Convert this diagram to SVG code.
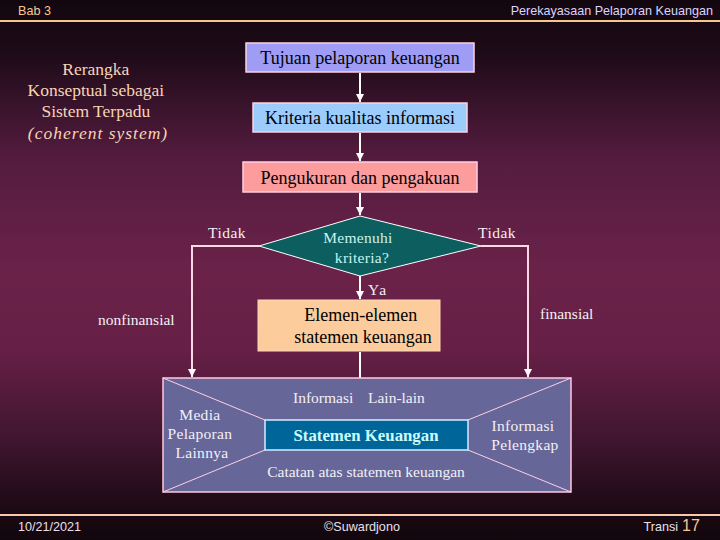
<svg xmlns="http://www.w3.org/2000/svg" width="720" height="540" viewBox="0 0 720 540">
<defs>
<linearGradient id="bg" x1="0" y1="0" x2="0" y2="1">
<stop offset="0" stop-color="#12070f"/>
<stop offset="0.1" stop-color="#1e0b18"/>
<stop offset="0.3" stop-color="#561c40"/>
<stop offset="0.5" stop-color="#6a2249"/>
<stop offset="0.65" stop-color="#661f46"/>
<stop offset="0.82" stop-color="#3e152e"/>
<stop offset="0.95" stop-color="#1a0912"/>
<stop offset="1" stop-color="#12060d"/>
</linearGradient>
<marker id="ah" viewBox="0 0 10 10" refX="10" refY="5" markerWidth="4" markerHeight="4" orient="auto">
<path d="M0,0 L10,5 L0,10 z" fill="#ffffff"/>
</marker>
<style>
.hdr{font-family:"Liberation Sans",Arial,sans-serif;font-size:12.6px}
.s{font-family:"Liberation Serif","Times New Roman",serif}
.box{stroke:#ffd0e0;stroke-width:1.5}
.lbl{font-family:"Liberation Serif","Times New Roman",serif;font-size:15.5px;fill:#f4f0f4}
.ln{stroke:#ffffff;stroke-width:2;fill:none}
.pl{stroke:#ffd8e6;stroke-width:2;fill:none}
</style>
</defs>
<rect x="0" y="0" width="720" height="540" fill="url(#bg)"/>
<g id="header">
<line x1="0" y1="21" x2="720" y2="21" stroke="#f4c888" stroke-width="2"/>
<text x="18" y="15" class="hdr" fill="#f8c890">Bab 3</text>
<text x="713" y="15" class="hdr" fill="#dcd4fc" text-anchor="end">Perekayasaan Pelaporan Keuangan</text>
</g>
<g id="footer">
<line x1="0" y1="515" x2="720" y2="515" stroke="#f8c8a8" stroke-width="2"/>
<text x="18" y="531" class="hdr" fill="#e8e0e8">10/21/2021</text>
<text x="362" y="531" class="hdr" fill="#e8e0e8" text-anchor="middle">©Suwardjono</text>
<text x="678" y="531" class="hdr" fill="#e8e0e8" text-anchor="end">Transi</text>
<text x="682" y="531" font-family="Liberation Sans,Arial,sans-serif" font-size="16" fill="#f8c890">17</text>
</g>
<g id="title">
<text class="s" font-size="17.5" fill="#f8d4b4" text-anchor="middle">
<tspan x="98" y="75">Rerangka</tspan>
<tspan x="98" y="96">Konseptual sebagai</tspan>
<tspan x="98" y="117">Sistem Terpadu</tspan>
<tspan x="98" y="139" font-style="italic" letter-spacing="1">(coherent system)</tspan>
</text>
</g>
<g id="connectors">
<line class="ln" x1="360" y1="73" x2="360" y2="102" marker-end="url(#ah)"/>
<line class="ln" x1="360" y1="133" x2="360" y2="161" marker-end="url(#ah)"/>
<line class="ln" x1="360" y1="193" x2="360" y2="215" marker-end="url(#ah)"/>
<line class="ln" x1="360" y1="276" x2="360" y2="299" marker-end="url(#ah)"/>
<line class="ln" x1="360" y1="352" x2="360" y2="419" marker-end="url(#ah)"/>
<polyline class="pl" points="259,246 192,246 192,377" marker-end="url(#ah)"/>
<polyline class="pl" points="481,246 528,246 528,377" marker-end="url(#ah)"/>
</g>
<g id="n-tujuan">
<rect class="box" x="246" y="43" width="228" height="29" fill="#9e9cf4"/>
<text class="s" x="360" y="64" font-size="18" text-anchor="middle" fill="#000">Tujuan pelaporan keuangan</text>
</g>
<g id="n-kriteria">
<rect class="box" x="253" y="103" width="214" height="29" fill="#9cccfc"/>
<text class="s" x="360" y="124" font-size="18" text-anchor="middle" fill="#000">Kriteria kualitas informasi</text>
</g>
<g id="n-pengukuran">
<rect class="box" x="243" y="162" width="234" height="30" fill="#fc9c9c"/>
<text class="s" x="360" y="184" font-size="18" text-anchor="middle" fill="#000">Pengukuran dan pengakuan</text>
</g>
<g id="n-memenuhi">
<polygon points="360,216 481,246 360,276 259,246" fill="#0c5f5e" stroke="#ffffff" stroke-width="1"/>
<text class="s" font-size="15.5" fill="#c8f4f0" text-anchor="middle" letter-spacing="0.3">
<tspan x="360" y="243">Memenuhi</tspan>
<tspan x="362" y="263">kriteria?</tspan>
</text>
</g>
<g id="labels">
<text class="lbl" x="208" y="238" letter-spacing="0.5">Tidak</text>
<text class="lbl" x="478" y="238" letter-spacing="0.5">Tidak</text>
<text class="lbl" x="368" y="295" letter-spacing="1.5">Ya</text>
<text class="lbl" x="98" y="325">nonfinansial</text>
<text class="lbl" x="540" y="319">finansial</text>
</g>
<g id="n-elemen">
<rect x="258" y="300" width="182" height="51" fill="#fccc9c" stroke="#ffd8b8" stroke-width="1"/>
<text class="s" font-size="18" fill="#000" text-anchor="middle">
<tspan x="363" y="321">Elemen-elemen</tspan>
<tspan x="363" y="343">statemen keuangan</tspan>
</text>
</g>
<g id="n-media">
<rect x="163" y="378" width="408" height="114" fill="#666699" stroke="#ffc8e0" stroke-width="1.5"/>
<line x1="163" y1="378" x2="265" y2="420" stroke="#ffd0e4" stroke-width="1"/>
<line x1="571" y1="378" x2="468" y2="420" stroke="#ffd0e4" stroke-width="1"/>
<line x1="163" y1="492" x2="265" y2="450" stroke="#ffd0e4" stroke-width="1"/>
<line x1="571" y1="492" x2="468" y2="450" stroke="#ffd0e4" stroke-width="1"/>
<text class="lbl" x="293" y="403">Informasi</text>
<text class="lbl" x="368" y="403">Lain-lain</text>
<text class="lbl" text-anchor="middle" letter-spacing="0.3">
<tspan x="202" y="420">Media</tspan>
<tspan x="202" y="439">Pelaporan</tspan>
<tspan x="202" y="458">Lainnya</tspan>
</text>
<text class="lbl" text-anchor="middle" letter-spacing="0.3">
<tspan x="525" y="431">Informasi</tspan>
<tspan x="525" y="450">Pelengkap</tspan>
</text>
<text class="lbl" x="366" y="477" text-anchor="middle">Catatan atas statemen keuangan</text>
</g>
<g id="n-statemen">
<rect x="265" y="420" width="203" height="30" fill="#006699" stroke="#d8ecff" stroke-width="1.5"/>
<text class="s" x="366" y="441" font-size="16.8" font-weight="bold" fill="#ccfcfc" text-anchor="middle">Statemen Keuangan</text>
</g>
</svg>
